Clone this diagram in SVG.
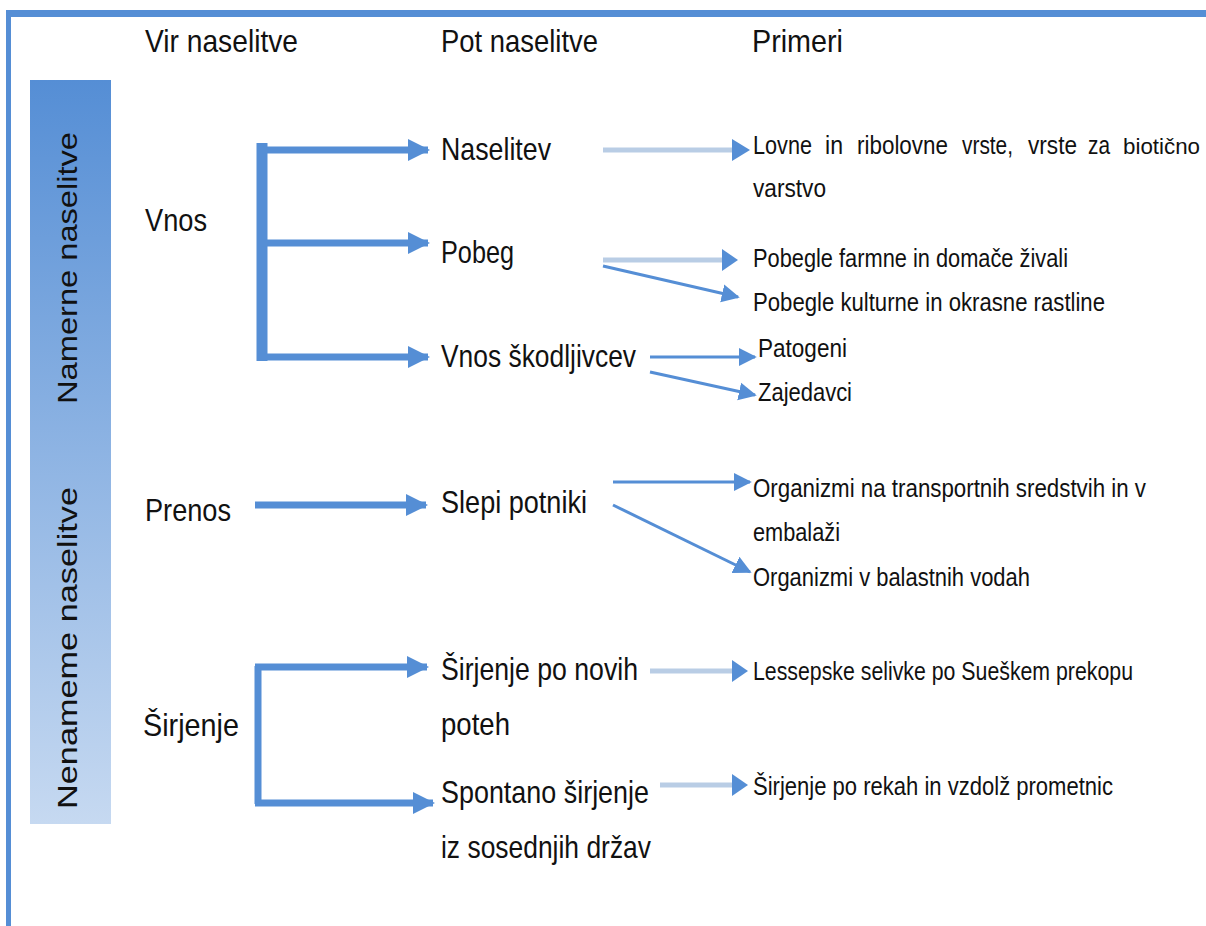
<svg xmlns="http://www.w3.org/2000/svg" width="1206" height="926" viewBox="0 0 1206 926">
<defs>
<linearGradient id="side" x1="0" y1="0" x2="0" y2="1">
<stop offset="0" stop-color="#558ED5"/>
<stop offset="1" stop-color="#C6D9F1"/>
</linearGradient>
<marker id="ah" viewBox="0 0 10 10" refX="9" refY="5" markerWidth="3.2" markerHeight="3.6" orient="auto" markerUnits="strokeWidth">
<path d="M0,0 L10,5 L0,10 z" fill="#558ED5"/>
</marker>
<marker id="ahs" viewBox="0 0 10 10" refX="9" refY="5" markerWidth="6" markerHeight="7" orient="auto" markerUnits="strokeWidth">
<path d="M0,0 L10,5 L0,10 z" fill="#558ED5"/>
</marker>
</defs>
<style>
text{font-family:"Liberation Sans",Arial,sans-serif;fill:#111}
.h{font-size:32px}
.m{font-size:32px}
.s{font-size:25px}
.r{font-size:28px}
.thick{stroke:#558ED5;stroke-width:7;fill:none}
.bar{stroke:#558ED5;stroke-width:11;fill:none}
.thin{stroke:#558ED5;stroke-width:3;fill:none}
.light{stroke:#B9CDE5;stroke-width:5;fill:none}
</style>
<rect width="1206" height="926" fill="#fff"/>
<g id="frame">
<rect x="6" y="10" width="1200" height="7" fill="#558ED5"/>
<rect x="6" y="10" width="5" height="916" fill="#558ED5"/>
</g>
<g id="sidebar">
<rect x="30" y="80" width="81" height="744" fill="url(#side)"/>
<text class="r" transform="translate(77,268) rotate(-90)" text-anchor="middle" textLength="272" lengthAdjust="spacingAndGlyphs">Namerne naselitve</text>
<text class="r" transform="translate(77,648) rotate(-90)" text-anchor="middle" textLength="322" lengthAdjust="spacingAndGlyphs">Nenameme naselitve</text>
</g>
<g id="headers">
<text class="h" x="145" y="52" textLength="153" lengthAdjust="spacingAndGlyphs">Vir naselitve</text>
<text class="h" x="441" y="52" textLength="157" lengthAdjust="spacingAndGlyphs">Pot naselitve</text>
<text class="h" x="752" y="52" textLength="91" lengthAdjust="spacingAndGlyphs">Primeri</text>
</g>
<g id="source-vnos"><text class="m" x="145" y="231" textLength="62" lengthAdjust="spacingAndGlyphs">Vnos</text></g>
<g id="source-prenos"><text class="m" x="145" y="521" textLength="86" lengthAdjust="spacingAndGlyphs">Prenos</text></g>
<g id="source-sirjenje"><text class="m" x="143" y="736" textLength="96" lengthAdjust="spacingAndGlyphs">Širjenje</text></g>
<g id="path-naselitev"><text class="m" x="441" y="160" textLength="110" lengthAdjust="spacingAndGlyphs">Naselitev</text></g>
<g id="path-pobeg"><text class="m" x="441" y="263" textLength="73" lengthAdjust="spacingAndGlyphs">Pobeg</text></g>
<g id="path-skodljivci"><text class="m" x="441" y="367" textLength="195" lengthAdjust="spacingAndGlyphs">Vnos škodljivcev</text></g>
<g id="path-slepi"><text class="m" x="441" y="513" textLength="146" lengthAdjust="spacingAndGlyphs">Slepi potniki</text></g>
<g id="path-nove-poti">
<text class="m" x="441" y="680" textLength="197" lengthAdjust="spacingAndGlyphs">Širjenje po novih</text>
<text class="m" x="441" y="735" textLength="69" lengthAdjust="spacingAndGlyphs">poteh</text>
</g>
<g id="path-spontano">
<text class="m" x="441" y="803" textLength="208" lengthAdjust="spacingAndGlyphs">Spontano širjenje</text>
<text class="m" x="441" y="858" textLength="210" lengthAdjust="spacingAndGlyphs">iz sosednjih držav</text>
</g>
<g id="ex-lovne">
<text class="s" x="753" y="154" textLength="59" lengthAdjust="spacingAndGlyphs">Lovne</text>
<text class="s" x="825" y="154" textLength="18" lengthAdjust="spacingAndGlyphs">in</text>
<text class="s" x="857" y="154" textLength="91" lengthAdjust="spacingAndGlyphs">ribolovne</text>
<text class="s" x="962" y="154" textLength="51" lengthAdjust="spacingAndGlyphs">vrste,</text>
<text class="s" x="1028" y="154" textLength="49" lengthAdjust="spacingAndGlyphs">vrste</text>
<text class="s" x="1088" y="154" textLength="22" lengthAdjust="spacingAndGlyphs">za</text>
<text x="1123" y="154" font-size="22.5" textLength="77" lengthAdjust="spacingAndGlyphs">biotično</text>
<text class="s" x="753" y="197" textLength="73" lengthAdjust="spacingAndGlyphs">varstvo</text>
</g>
<g id="ex-farmne"><text class="s" x="753" y="267" textLength="315" lengthAdjust="spacingAndGlyphs">Pobegle farmne in domače živali</text></g>
<g id="ex-kulturne"><text class="s" x="753" y="311" textLength="352" lengthAdjust="spacingAndGlyphs">Pobegle kulturne in okrasne rastline</text></g>
<g id="ex-patogeni"><text class="s" x="758" y="357" textLength="89" lengthAdjust="spacingAndGlyphs">Patogeni</text></g>
<g id="ex-zajedavci"><text class="s" x="758" y="401" textLength="94" lengthAdjust="spacingAndGlyphs">Zajedavci</text></g>
<g id="ex-transport">
<text class="s" x="753" y="497" textLength="393" lengthAdjust="spacingAndGlyphs">Organizmi na transportnih sredstvih in v</text>
<text class="s" x="753" y="541" textLength="87" lengthAdjust="spacingAndGlyphs">embalaži</text>
</g>
<g id="ex-balast"><text class="s" x="753" y="586" textLength="277" lengthAdjust="spacingAndGlyphs">Organizmi v balastnih vodah</text></g>
<g id="ex-lessepske"><text class="s" x="753" y="680" textLength="380" lengthAdjust="spacingAndGlyphs">Lessepske selivke po Sueškem prekopu</text></g>
<g id="ex-reke"><text class="s" x="753" y="795" textLength="360" lengthAdjust="spacingAndGlyphs">Širjenje po rekah in vzdolž prometnic</text></g>
<g id="connectors">
<path class="bar" d="M262,143 V361"/>
<path class="thick" d="M262,150 H428" marker-end="url(#ah)"/>
<path class="thick" d="M262,243 H428" marker-end="url(#ah)"/>
<path class="thick" d="M262,357 H428" marker-end="url(#ah)"/>
<path class="thick" d="M255,505 H426" marker-end="url(#ah)"/>
<path class="thick" d="M258,666 V804"/>
<path class="thick" d="M255,667 H427" marker-end="url(#ah)"/>
<path class="thick" d="M255,803 H433" marker-end="url(#ah)"/>
<path class="light" d="M603,150 H740"/>
<path d="M732,139 L750,150 L732,161 z" fill="#558ED5"/>
<path class="light" d="M603,260 H728"/>
<path d="M722,249 L738,260 L722,271 z" fill="#558ED5"/>
<path class="thin" d="M603,266 L738,297" marker-end="url(#ahs)"/>
<path class="thin" d="M650,357 H755" marker-end="url(#ahs)"/>
<path class="thin" d="M650,372 L755,395" marker-end="url(#ahs)"/>
<path class="thin" d="M613,482 H750" marker-end="url(#ahs)"/>
<path class="thin" d="M613,505 L750,572" marker-end="url(#ahs)"/>
<path class="light" d="M650,671 H740"/>
<path d="M732,660 L748,671 L732,682 z" fill="#558ED5"/>
<path class="light" d="M660,785 H740"/>
<path d="M732,774 L748,785 L732,796 z" fill="#558ED5"/>
</g>
</svg>
